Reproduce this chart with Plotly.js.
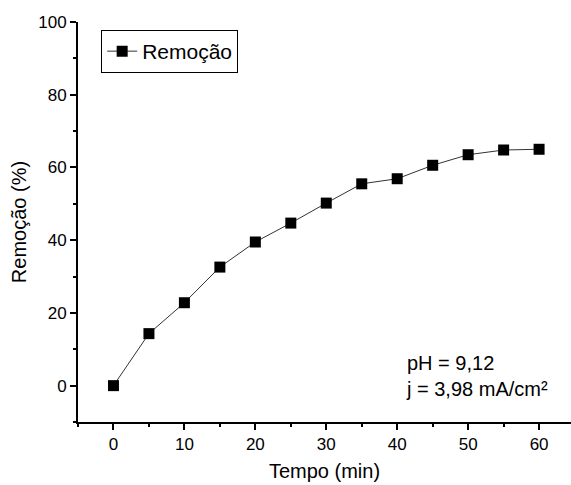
<!DOCTYPE html>
<html>
<head>
<meta charset="utf-8">
<script src="https://cdn.plot.ly/plotly-3.0.1.min.js"></script>
<style>html,body{margin:0;padding:0;background:#fff;}#chart{width:571px;height:485px;}</style>
</head>
<body>
<div id="chart"></div>
<script>
const tempo = [0, 5, 10, 15, 20, 25, 30, 35, 40, 45, 50, 55, 60];
const remocao = [0, 14.3, 22.8, 32.6, 39.5, 44.7, 50.2, 55.5, 56.9, 60.6, 63.5, 64.8, 65.0];
const seriesName = 'Remoção';
const xTitle = 'Tempo (min)';
const yTitle = 'Remoção (%)';
const noteText = 'pH = 9,12<br>j = 3,98 mA/cm²';

const font = 'Arial, "Liberation Sans", sans-serif';

const trace = {
  x: tempo, y: remocao, name: seriesName, type: 'scatter', mode: 'lines+markers',
  line: {color: '#333333', width: 1},
  marker: {symbol: 'square', size: 11, color: '#000000'}
};

const layout = {
  width: 571, height: 485,
  margin: {l: 78, r: 0, t: 22, b: 63},
  paper_bgcolor: '#ffffff', plot_bgcolor: '#ffffff',
  font: {family: font, color: '#000000', size: 17},
  showlegend: true,
  legend: {
    x: 0.047, y: 0.98, xanchor: 'left', yanchor: 'top',
    bordercolor: '#000000', borderwidth: 1, bgcolor: '#ffffff',
    font: {family: font, size: 21, color: '#000000'},
    tracegroupgap: 0
  },
  xaxis: {
    range: [-5, 64.5], dtick: 10, tick0: 0,
    showgrid: false, zeroline: false, showline: true, linecolor: '#000000', linewidth: 2,
    ticks: 'outside', ticklen: 6, tickwidth: 2, tickcolor: '#000000',
    minor: {dtick: 5, ticks: 'outside', ticklen: 3, tickwidth: 2, tickcolor: '#000000'},
    tickfont: {family: font, size: 17},
    title: {text: xTitle, font: {family: font, size: 20}, standoff: 11}
  },
  yaxis: {
    range: [-10, 100], dtick: 20, tick0: 0,
    showgrid: false, zeroline: false, showline: true, linecolor: '#000000', linewidth: 2,
    ticks: 'outside', ticklen: 6, tickwidth: 2, tickcolor: '#000000',
    minor: {dtick: 10, ticks: 'outside', ticklen: 3, tickwidth: 2, tickcolor: '#000000'},
    tickfont: {family: font, size: 17},
    title: {text: yTitle, font: {family: font, size: 20}, standoff: 6}
  },
  annotations: [{
    text: noteText, xref: 'paper', yref: 'paper', x: 0.662, y: 0.18,
    xanchor: 'left', yanchor: 'top', align: 'left', showarrow: false,
    font: {family: font, size: 20, color: '#000000'}
  }]
};

Plotly.newPlot('chart', [trace], layout, {displayModeBar: false, staticPlot: true});
</script>
</body>
</html>
